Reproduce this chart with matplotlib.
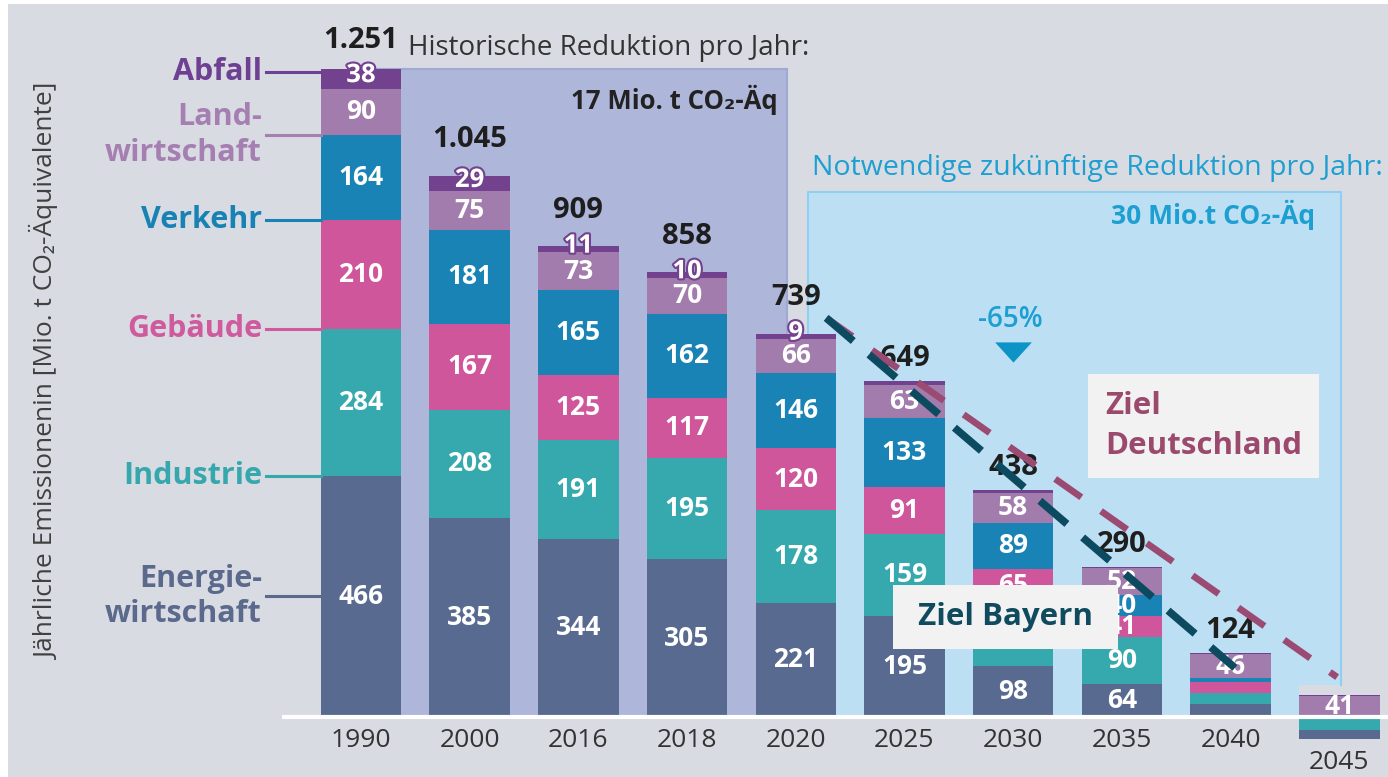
import numpy as np
import matplotlib.pyplot as plt
from matplotlib.patches import Rectangle, Polygon
import matplotlib.patheffects as pe

plt.rcParams['font.family'] = ['Open Sans', 'DejaVu Sans']
plt.rcParams['lines.scale_dashes'] = False

# data (Mio. t CO2-Aeq)
years = ['1990', '2000', '2016', '2018', '2020', '2025', '2030', '2035', '2040', '2045']
energie = [466, 385, 344, 305, 221, 195, 98, 64, 25, 17]
industrie = [284, 208, 191, 195, 178, 159, 123, 90, 22, 25]
gebaeude = [210, 167, 125, 117, 120, 91, 65, 41, 20, 0]
verkehr = [164, 181, 165, 162, 146, 133, 89, 40, 8, 0]
landwirtschaft = [90, 75, 73, 70, 66, 63, 58, 52, 46, 41]
abfall = [38, 29, 11, 10, 9, 8, 5, 3, 3, 2]
total_labels = ['1.251', '1.045', '909', '858', '739', '649', '438', '290', '124', '']

sector_names = ['Energie-\nwirtschaft', 'Industrie', 'Gebäude', 'Verkehr', 'Land-\nwirtschaft', 'Abfall']

# target paths (x in bar positions)
bayern_x = [4.28, 8.04]
bayern_y = [771, 95]
de_x = [4.28, 8.98]
de_y = [771, 77]

series = [energie, industrie, gebaeude, verkehr, landwirtschaft, abfall]
colors = ['#586a8f', '#36a9ae', '#d0569c', '#1983b6', '#a27cad', '#73428f']
text_colors = ['#5b6a8c', '#36a8ad', '#cf5a9e', '#1982b5', '#a57fb2', '#6e3f92']
line_frac = [0.5, 0, 0, 0, 0, 0.85]   # where the label line hits the 1990 bar
n_abfall_labels = 5
blue = '#1d9fd1'

fig = plt.figure(figsize=(13.88, 7.77), dpi=100)
fig.patch.set_facecolor('white')
fig.patches.append(Rectangle((8 / 1388, 0), 1, 1 - 4 / 777, transform=fig.transFigure,
                             facecolor='#d8dbe2', edgecolor='none', zorder=-1))
ax = fig.add_axes([0, 0, 1, 1])
ax.patch.set_alpha(0)
ax.set_xlim(-3.321, 9.448)
ax.set_ylim(-115.9, 1385.2)
ax.axis('off')

x = np.arange(len(years))
base = np.zeros(len(years))
base[-1] = -(energie[-1] + industrie[-1])   # 2045: residual drawn below the zero line
width = 0.74

# shaded periods
ax.add_patch(Rectangle((0, 0), 3.92, sum(s[0] for s in series), facecolor='#aeb6d9',
                       edgecolor='#9ea9d4', lw=1.5, zorder=1))
fut = [(4.11, 0), (4.11, 1014), (9.02, 1014), (9.02, 62), (8.63, 62), (8.63, 0)]
ax.add_patch(Polygon(fut, closed=True, facecolor='#bcdff3', edgecolor='none', zorder=1))
ax.plot([p[0] for p in fut[:4]], [p[1] for p in fut[:4]], color='#8fd0f2', lw=1.5, zorder=1)

bottom = base.copy()
for k, (vals, col) in enumerate(zip(series, colors)):
    vals = np.array(vals, dtype=float)
    ax.bar(x, vals, width=width, bottom=bottom, color=col, zorder=3)
    for i in range(len(years)):
        if k == 5:
            if i < n_abfall_labels:
                ax.text(x[i], bottom[i] + vals[i] / 2 + 8, str(int(vals[i])), ha='center', va='center',
                        color='white', fontsize=18.5, fontweight='bold', zorder=5,
                        path_effects=[pe.withStroke(linewidth=3, foreground=col)])
        elif vals[i] >= 30:
            ax.text(x[i], bottom[i] + vals[i] / 2, str(int(vals[i])), ha='center', va='center',
                    color='white', fontsize=19, fontweight='bold', zorder=5)
    bottom += vals

# totals
for i in range(len(years)):
    lift = 44
    if 0 < i < n_abfall_labels:
        lift = 70
    elif i == 0:
        lift = 54
    ax.text(x[i], bottom[i] + lift, total_labels[i], ha='center', va='center',
            fontsize=21, fontweight='bold', color='#1e1e1e', zorder=5)

# year labels
for i in range(len(years)):
    ax.text(x[i], base[i] - 45 if base[i] < 0 else -45, years[i], ha='center', va='center',
            fontsize=19, color='#333333', zorder=5)

# zero line
ax.axhline(0, xmin=284 / 1388, xmax=1, color='white', lw=3, zorder=4)

# sector labels at the 1990 bar
b = 0
for k, vals in enumerate(series):
    y = b + line_frac[k] * vals[0]
    ax.plot([-0.874, -width / 2], [y, y], color=text_colors[k], lw=2.2, zorder=4)
    ax.text(-0.911, y, sector_names[k], ha='right', va='center', multialignment='right',
            fontsize=22, fontweight='bold', color=text_colors[k], linespacing=1.25)
    b += vals[0]

ax.text(-2.907, 667, 'Jährliche Emissionenin [Mio. t CO₂-Äquivalente]', rotation=90,
        ha='center', va='center', fontsize=19, color='#404040')

# period headers
ax.text(0.432, 1292, 'Historische Reduktion pro Jahr:', ha='left', va='center',
        fontsize=20, color='#333333')
ax.text(3.836, 1192, '17 Mio. t CO₂-Äq', ha='right', va='center', fontsize=18.5,
        fontweight='bold', color='#222222', zorder=2)
ax.text(4.149, 1060, 'Notwendige zukünftige Reduktion pro Jahr:', ha='left', va='center',
        fontsize=20.5, color=blue)
ax.text(8.776, 970, '30 Mio.t CO₂-Äq', ha='right', va='center', fontsize=19,
        fontweight='bold', color=blue, zorder=2)

ax.text(5.97, 768, '-65%', ha='center', va='center', fontsize=20, fontweight='semibold',
        color=blue, zorder=5)
ax.scatter([6.0], [705], marker=[(-1, 0.55), (1, 0.55), (0, -0.55)], s=700,
           color='#0e93c7', zorder=5, linewidths=0)

# target lines
ax.plot(de_x, de_y, color='#9b4a72', lw=4.8, linestyle=(0, (23, 17.3)),
        solid_capstyle='butt', zorder=6)
ax.plot(bayern_x, bayern_y, color='#0c4a60', lw=5.5, linestyle=(0, (25.6, 14.9)),
        solid_capstyle='butt', zorder=6)

ax.text(6.845, 562, 'Ziel\nDeutschland', ha='left', va='center', fontsize=22.5,
        fontweight='bold', color='#9b4a6e', linespacing=1.45, zorder=7,
        bbox=dict(boxstyle='square,pad=0.55', facecolor='#f2f2f2', edgecolor='none'))
ax.text(5.93, 193, ' Ziel Bayern ', ha='center', va='center', fontsize=22.5,
        fontweight='bold', color='#0f4a5e', zorder=7,
        bbox=dict(boxstyle='square,pad=0.55', facecolor='#f2f2f2', edgecolor='none'))

fig.savefig('out.png', dpi=100)
